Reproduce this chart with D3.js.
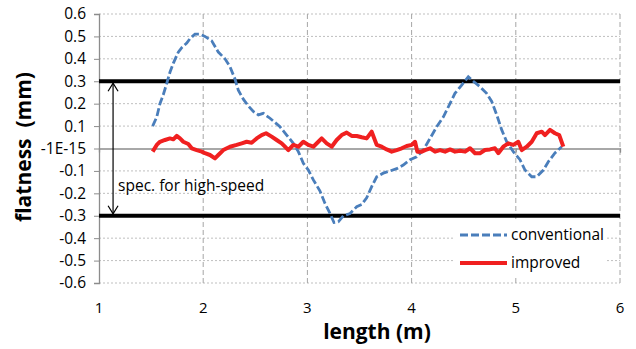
<!DOCTYPE html>
<html>
<head>
<meta charset="utf-8">
<script src="https://cdn.jsdelivr.net/npm/d3@7"></script>
<style>
body { margin: 0; background: #fff; }
text { font-family: "Open Sans", sans-serif; fill: #000; }
</style>
</head>
<body>
<script>
// x ticks / y ticks as they appear on the chart
const xTicks = [1, 2, 3, 4, 5, 6];
const yTicks = [0.6, 0.5, 0.4, 0.3, 0.2, 0.1, 0, -0.1, -0.2, -0.3, -0.4, -0.5, -0.6];
const yTickLabels = ['0.6', '0.5', '0.4', '0.3', '0.2', '0.1', '-1E-15', '-0.1', '-0.2', '-0.3', '-0.4', '-0.5', '-0.6'];

// spec limits for high-speed
const specLimits = [0.3, -0.3];

// conventional (blue dashed)
const convX = [1.515, 1.554, 1.585, 1.617, 1.650, 1.681, 1.713, 1.761, 1.794, 1.842, 1.873, 1.921, 1.969, 2.017,
    2.082, 2.145, 2.209, 2.257, 2.305, 2.337, 2.385, 2.433, 2.481, 2.529, 2.577, 2.641, 2.705, 2.737, 2.801,
    2.865, 2.913, 2.961, 3.009, 3.057, 3.121, 3.169, 3.217, 3.255, 3.297, 3.345, 3.409, 3.473, 3.521, 3.569,
    3.617, 3.665, 3.728, 3.793, 3.857, 3.920, 3.985, 4.049, 4.112, 4.177, 4.241, 4.304, 4.368, 4.416, 4.481,
    4.544, 4.592, 4.656, 4.720, 4.769, 4.817, 4.865, 4.913, 4.976, 5.040, 5.088, 5.153, 5.201, 5.265, 5.312,
    5.376, 5.441];
const convY = [0.10, 0.14, 0.20, 0.24, 0.29, 0.34, 0.38, 0.43, 0.45, 0.47, 0.49, 0.51, 0.51, 0.50,
    0.48, 0.43, 0.40, 0.365, 0.31, 0.26, 0.22, 0.19, 0.165, 0.15, 0.157, 0.135, 0.11, 0.097, 0.06,
    0.023, -0.014, -0.066, -0.096, -0.14, -0.19, -0.245, -0.29, -0.33, -0.327, -0.30, -0.29, -0.26, -0.25, -0.22,
    -0.17, -0.126, -0.11, -0.10, -0.09, -0.074, -0.05, -0.037, -0.007, 0.045, 0.097, 0.14, 0.20, 0.246, 0.283,
    0.32, 0.30, 0.276, 0.246, 0.21, 0.15, 0.083, 0.03, -0.014, -0.05, -0.096, -0.126, -0.126, -0.096, -0.059,
    -0.02, 0.008];

// improved (red)
const impX = [1.515, 1.554, 1.585, 1.633, 1.681, 1.713, 1.746, 1.777, 1.809, 1.857, 1.890, 1.938, 1.986, 2.017,
    2.065, 2.113, 2.145, 2.193, 2.257, 2.321, 2.370, 2.417, 2.465, 2.513, 2.561, 2.603, 2.657, 2.705, 2.753,
    2.785, 2.817, 2.865, 2.913, 2.961, 3.009, 3.057, 3.105, 3.137, 3.185, 3.233, 3.281, 3.329, 3.377, 3.425,
    3.473, 3.521, 3.569, 3.617, 3.665, 3.713, 3.761, 3.809, 3.857, 3.905, 3.953, 4.001, 4.033, 4.055, 4.097,
    4.129, 4.177, 4.225, 4.273, 4.321, 4.369, 4.417, 4.465, 4.513, 4.561, 4.609, 4.656, 4.704, 4.752, 4.800,
    4.832, 4.880, 4.928, 4.976, 5.024, 5.057, 5.105, 5.153, 5.201, 5.249, 5.280, 5.328, 5.376, 5.417, 5.456];
const impY = [-0.014, 0.016, 0.03, 0.038, 0.045, 0.041, 0.056, 0.045, 0.03, 0.02, 0.001, -0.007, -0.014, -0.021,
    -0.029, -0.044, -0.029, -0.007, 0.008, 0.016, 0.023, 0.03, 0.026, 0.045, 0.06, 0.068, 0.053, 0.038, 0.023,
    0.008, -0.007, 0.016, 0.008, 0.03, 0.016, 0.008, 0.03, 0.045, 0.023, 0.008, 0.038, 0.06, 0.071, 0.056,
    0.056, 0.05, 0.045, 0.075, 0.016, 0.008, -0.004, -0.014, -0.007, 0.001, 0.011, 0.016, 0.03, -0.014, -0.014,
    -0.007, 0.001, -0.014, -0.007, -0.014, -0.004, -0.014, -0.01, -0.014, 0.001, -0.021, -0.021, -0.007, -0.004, 0.001,
    -0.021, 0.008, 0.023, 0.016, 0.03, -0.007, 0.008, 0.03, 0.068, 0.075, 0.06, 0.083, 0.068, 0.06, 0.008];

const seriesNames = ['conventional', 'improved'];

let width = 636,
    height = 349;

let svg = d3.select('body')
    .append('svg')
    .attr('width', width)
    .attr('height', height);

let x = d3.scaleLinear().domain([1, 6]).range([99, 620]);
let y = d3.scaleLinear().domain([-0.6, 0.6]).range([283, 14]);

// horizontal dotted grid
svg.append('g')
    .selectAll('line')
    .data(yTicks.filter(d => d !== 0))
    .enter().append('line')
    .attr('x1', x(1)).attr('x2', x(6))
    .attr('y1', d => y(d)).attr('y2', d => y(d))
    .attr('stroke', '#bfbfbf')
    .attr('stroke-dasharray', '2,2');

// vertical dashed grid
svg.append('g')
    .selectAll('line')
    .data(xTicks.slice(1))
    .enter().append('line')
    .attr('x1', d => x(d)).attr('x2', d => x(d))
    .attr('y1', y(0.6)).attr('y2', y(-0.6))
    .attr('stroke', '#a6a6a6')
    .attr('stroke-dasharray', '5,3');

// x axis sits at zero
let x_axis = d3.axisBottom(x).tickValues(xTicks).tickSize(4).tickFormat('');
let gx = svg.append('g')
    .attr('transform', 'translate(0,' + y(0) + ')')
    .call(x_axis);
gx.select('.domain').attr('stroke', '#8c8c8c').attr('stroke-width', 1.3);
gx.selectAll('.tick line').attr('stroke', '#8c8c8c');

// x tick labels at the bottom
svg.append('g')
    .selectAll('text')
    .data(xTicks)
    .enter().append('text')
    .attr('x', d => x(d))
    .attr('y', 313)
    .attr('text-anchor', 'middle')
    .style('font-size', '15px')
    .text(d => d);

// y axis
let y_axis = d3.axisLeft(y)
    .tickValues(yTicks)
    .tickSize(5)
    .tickPadding(8)
    .tickFormat((d, i) => yTickLabels[i]);
let gy = svg.append('g')
    .attr('transform', 'translate(' + x(1) + ',0)')
    .call(y_axis);
gy.select('.domain').attr('stroke', '#8c8c8c').attr('stroke-width', 1.3);
gy.selectAll('.tick line').attr('stroke', '#8c8c8c');
gy.selectAll('.tick text')
    .style('font-family', '"Open Sans", sans-serif')
    .style('font-size', '15.5px')
    .attr('fill', '#000');

// spec lines
svg.append('g')
    .selectAll('line')
    .data(specLimits)
    .enter().append('line')
    .attr('x1', x(1)).attr('x2', x(6))
    .attr('y1', d => y(d)).attr('y2', d => y(d))
    .attr('stroke', '#000')
    .attr('stroke-width', 4);

// double arrow for spec
let ax = x(1.135);
svg.append('line')
    .attr('x1', ax).attr('x2', ax)
    .attr('y1', y(specLimits[0]) + 2).attr('y2', y(specLimits[1]) - 2)
    .attr('stroke', '#000').attr('stroke-width', 1.2);
svg.append('polyline')
    .attr('points', [[ax - 5, y(specLimits[0]) + 10], [ax, y(specLimits[0]) + 2], [ax + 5, y(specLimits[0]) + 10]])
    .attr('fill', 'none').attr('stroke', '#000').attr('stroke-width', 1.2);
svg.append('polyline')
    .attr('points', [[ax - 5, y(specLimits[1]) - 10], [ax, y(specLimits[1]) - 2], [ax + 5, y(specLimits[1]) - 10]])
    .attr('fill', 'none').attr('stroke', '#000').attr('stroke-width', 1.2);

svg.append('text')
    .attr('x', ax + 5)
    .attr('y', 191)
    .style('font-size', '15.5px')
    .text('spec. for high-speed');

let lineFunc = d3.line()
    .x(d => x(d[0]))
    .y(d => y(d[1]));

let conv = convX.map((d, i) => [d, convY[i]]);
let imp = impX.map((d, i) => [d, impY[i]]);

svg.append('path')
    .attr('d', lineFunc(conv))
    .attr('fill', 'none')
    .attr('stroke', '#4a7ebb')
    .attr('stroke-width', 2.8)
    .attr('stroke-dasharray', '8,3');

svg.append('path')
    .attr('d', lineFunc(imp))
    .attr('fill', 'none')
    .attr('stroke', '#f02020')
    .attr('stroke-width', 4)
    .style('stroke-linejoin', 'round');

// legend
let lg = svg.append('g');
lg.append('rect')
    .attr('x', 455).attr('y', 222)
    .attr('width', 152).attr('height', 53)
    .attr('fill', '#fff');
lg.append('line')
    .attr('x1', 460).attr('x2', 507).attr('y1', 235).attr('y2', 235)
    .attr('stroke', '#4a7ebb').attr('stroke-width', 2.8).attr('stroke-dasharray', '8,3');
lg.append('line')
    .attr('x1', 460).attr('x2', 507).attr('y1', 263).attr('y2', 263)
    .attr('stroke', '#f02020').attr('stroke-width', 4);
lg.selectAll('text')
    .data(seriesNames)
    .enter().append('text')
    .attr('x', 511)
    .attr('y', (d, i) => 240 + i * 28)
    .style('font-size', '15.5px')
    .text(d => d);

// axis titles
svg.append('text')
    .attr('x', 377)
    .attr('y', 339)
    .attr('text-anchor', 'middle')
    .style('font-size', '21px')
    .style('font-weight', 'bold')
    .text('length (m)');

svg.append('text')
    .attr('transform', 'translate(31,147) rotate(-90)')
    .attr('text-anchor', 'middle')
    .style('font-size', '21px')
    .style('font-weight', 'bold')
    .style('white-space', 'pre')
    .text('flatness  (mm)');
</script>
</body>
</html>
